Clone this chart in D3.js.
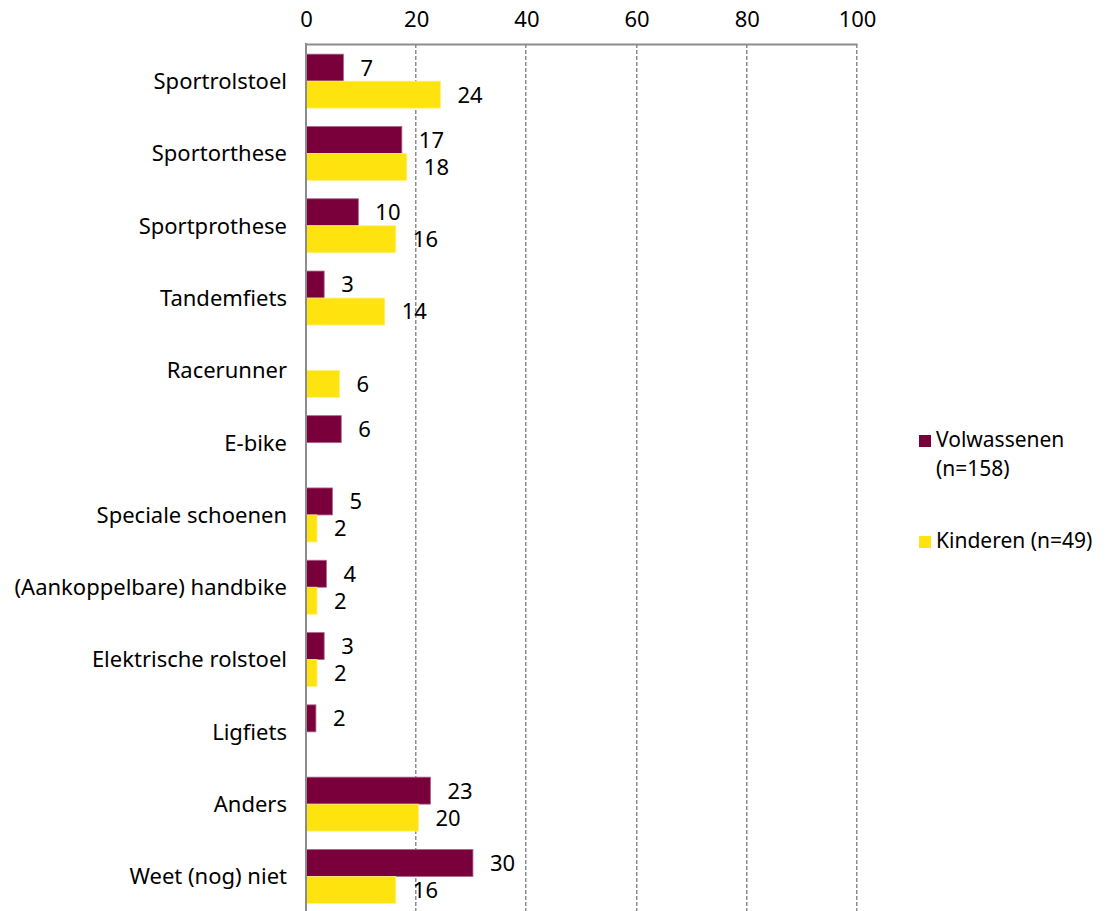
<!DOCTYPE html>
<html>
<head>
<meta charset="utf-8">
<script src="https://cdn.jsdelivr.net/npm/d3@7"></script>
<style>
  html, body { margin: 0; padding: 0; background: #fff; }
  svg { display: block; }
  text { font-family: "Noto Sans", "Open Sans", sans-serif; fill: #000; }
</style>
</head>
<body>
<svg id="chart" width="1114" height="911"></svg>
<script>
const categories = [
  "Sportrolstoel", "Sportorthese", "Sportprothese", "Tandemfiets", "Racerunner",
  "E-bike", "Speciale schoenen", "(Aankoppelbare) handbike", "Elektrische rolstoel",
  "Ligfiets", "Anders", "Weet (nog) niet"
];
const volwassenen = [6.8, 17.4, 9.5, 3.3, null, 6.4, 4.8, 3.7, 3.3, 1.8, 22.6, 30.3];
const kinderen    = [24.4, 18.3, 16.3, 14.3, 6.1, null, 2.0, 2.0, 2.0, null, 20.4, 16.3];
const seriesNames = ["Volwassenen (n=158)", "Kinderen (n=49)"];
const legendLines = [["Volwassenen", "(n=158)"], ["Kinderen (n=49)"]];
const seriesColors = ["#7a003c", "#ffe30f"];
const seriesStrokes = ["#b0668c", "#fff080"];
const xTicks = [0, 20, 40, 60, 80, 100];

const svg = d3.select("#chart");
const x = d3.scaleLinear().domain([0, 100]).range([306, 857]);
const y = d3.scaleBand().domain(categories).range([45, 912.6]).paddingInner(0.253).paddingOuter(0.1265);
const sub = d3.scaleBand().domain([0, 1]).range([0, y.bandwidth()]);

// gridlines
svg.append("g").selectAll("line").data(xTicks.filter(t => t > 0)).join("line")
  .attr("x1", d => Math.round(x(d)) - 0.25).attr("x2", d => Math.round(x(d)) - 0.25)
  .attr("y1", 44).attr("y2", 911)
  .attr("stroke", "#8c8c8c").attr("stroke-width", 1.5).attr("stroke-dasharray", "4,2");

// top axis
const xAxis = d3.axisTop(x).tickValues(xTicks).tickSize(0).tickPadding(0);
const gx = svg.append("g").attr("transform", "translate(0,44)").call(xAxis);
gx.select(".domain").attr("stroke", "#8c8c8c").attr("stroke-width", 2);
gx.selectAll("text").attr("font-size", 22).attr("font-family", "Noto Sans")
  .attr("y", -17.5).attr("dy", 0).attr("fill", "#000");

// bars
const series = [volwassenen, kinderen];
series.forEach((vals, si) => {
  const g = svg.append("g");
  const data = categories.map((c, i) => ({c, v: vals[i]})).filter(d => d.v != null);
  g.selectAll("rect").data(data).join("rect")
    .attr("x", x(0))
    .attr("y", d => y(d.c) + sub(si))
    .attr("width", d => x(d.v) - x(0))
    .attr("height", sub.bandwidth())
    .attr("fill", seriesColors[si])
    .attr("stroke", seriesStrokes[si]).attr("stroke-width", 0.8);
  g.selectAll("text").data(data).join("text")
    .attr("x", d => x(d.v) + 17)
    .attr("y", d => y(d.c) + sub(si) + sub.bandwidth() / 2)
    .attr("dy", "0.36em")
    .attr("font-size", 22)
    .text(d => d3.format(".0f")(d.v));
});

// left axis line
svg.append("line").attr("x1", 306).attr("x2", 306).attr("y1", 43).attr("y2", 911)
  .attr("stroke", "#8c8c8c").attr("stroke-width", 2);

// category labels
svg.append("g").selectAll("text").data(categories).join("text")
  .attr("x", 287)
  .attr("y", d => y(d) + y.bandwidth() / 2)
  .attr("dy", "0.36em")
  .attr("text-anchor", "end")
  .attr("font-size", 22)
  .text(d => d);

// legend
const legendY = [435, 536];
const lg = svg.append("g");
legendLines.forEach((lines, i) => {
  lg.append("rect").attr("x", 919).attr("y", legendY[i]).attr("width", 12).attr("height", 12)
    .attr("fill", seriesColors[i]);
  lines.forEach((ln, j) => {
    lg.append("text").attr("x", 936).attr("y", legendY[i] + 12 + j * 29)
      .attr("font-size", 21).text(ln);
  });
});
</script>
</body>
</html>
